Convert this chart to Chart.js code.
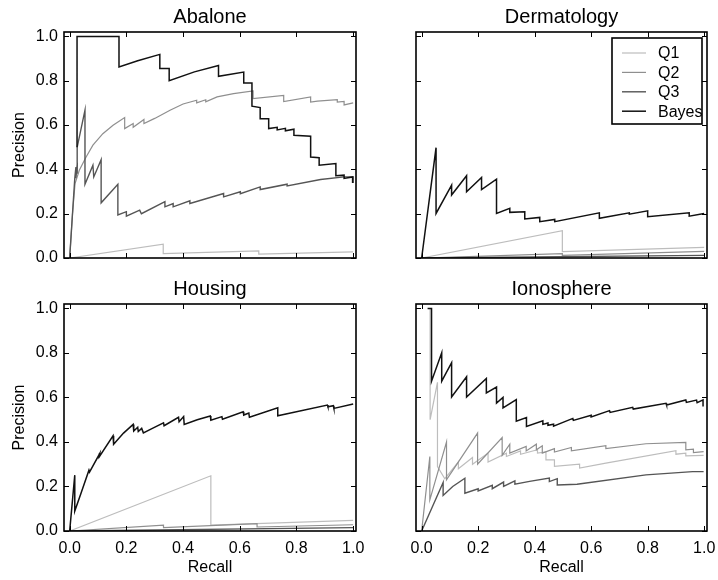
<!DOCTYPE html>
<html>
<head>
<meta charset="utf-8">
<script src="https://cdn.jsdelivr.net/npm/chart.js@4.4.0/dist/chart.umd.min.js"></script>
<style>
  body { margin: 0; background: #fff; }
  #wrap { position: relative; width: 718px; height: 580px; overflow: hidden; }
  canvas { position: absolute; }
</style>
</head>
<body>
<div id="wrap">
  <canvas id="abalone" width="372" height="290" style="left:0px;top:0px"></canvas>
  <canvas id="dermatology" width="359" height="290" style="left:359px;top:0px"></canvas>
  <canvas id="housing" width="372" height="318" style="left:0px;top:262px"></canvas>
  <canvas id="ionosphere" width="359" height="318" style="left:359px;top:262px"></canvas>
</div>
<script>
// series names and axis ticks
const seriesNames = ['Q1', 'Q2', 'Q3', 'Bayes'];
const tickValues = [0, 0.2, 0.4, 0.6, 0.8, 1.0];
const tickLabels = ['0.0', '0.2', '0.4', '0.6', '0.8', '1.0'];

// [recall, precision] pairs
const abaloneQ1 = [[0, 0], [0.330, 0.062], [0.330, 0.02], [0.667, 0.032], [0.667, 0.018], [1.0, 0.028]];
const abaloneQ2 = [[0, 0], [0.01, 0.2], [0.019, 0.336], [0.034, 0.396], [0.058, 0.456], [0.082, 0.509],
  [0.117, 0.561], [0.153, 0.599], [0.194, 0.634], [0.194, 0.584], [0.224, 0.607], [0.224, 0.59],
  [0.262, 0.625], [0.262, 0.607], [0.30, 0.63], [0.354, 0.667], [0.40, 0.695], [0.448, 0.712],
  [0.448, 0.70], [0.48, 0.714], [0.48, 0.705], [0.52, 0.727], [0.578, 0.742], [0.647, 0.754],
  [0.647, 0.719], [0.755, 0.734], [0.755, 0.706], [0.850, 0.727], [0.850, 0.704], [0.874, 0.708],
  [0.944, 0.715], [0.944, 0.704], [0.968, 0.707], [0.968, 0.691], [1.0, 0.70]];
const abaloneQ3 = [[0, 0], [0.018, 0.36], [0.022, 0.41], [0.022, 0.36], [0.027, 0.43], [0.027, 0.38],
  [0.026, 0.5], [0.054, 0.667], [0.054, 0.333], [0.082, 0.419], [0.085, 0.366], [0.111, 0.444],
  [0.111, 0.249], [0.170, 0.333], [0.170, 0.194], [0.200, 0.209], [0.200, 0.189], [0.247, 0.216],
  [0.253, 0.200], [0.336, 0.254], [0.336, 0.231], [0.365, 0.246], [0.365, 0.231], [0.424, 0.258],
  [0.424, 0.246], [0.543, 0.291], [0.543, 0.276], [0.602, 0.299], [0.602, 0.29], [0.672, 0.321],
  [0.672, 0.309], [0.767, 0.333], [0.767, 0.325], [0.885, 0.354], [0.968, 0.366], [1.0, 0.366], [1.0, 0.339]];
const abaloneBayes = [[0.026, 0.5], [0.026, 1.0], [0.174, 1.0], [0.174, 0.862], [0.24, 0.89], [0.318, 0.919],
  [0.318, 0.855], [0.351, 0.855], [0.351, 0.80], [0.44, 0.84], [0.525, 0.869], [0.525, 0.82],
  [0.614, 0.839], [0.614, 0.79], [0.643, 0.79], [0.643, 0.685], [0.672, 0.679], [0.672, 0.629],
  [0.702, 0.629], [0.702, 0.584], [0.732, 0.59], [0.732, 0.578], [0.761, 0.585], [0.761, 0.574],
  [0.791, 0.581], [0.791, 0.554], [0.850, 0.55], [0.850, 0.456], [0.880, 0.453], [0.880, 0.419],
  [0.939, 0.426], [0.939, 0.371], [0.968, 0.374], [0.968, 0.359], [0.998, 0.366], [0.998, 0.339]];

const dermatologyQ1 = [[0, 0], [0.498, 0.123], [0.498, 0.029], [1.0, 0.048]];
const dermatologyQ2 = [[0, 0], [0.498, 0.02], [0.498, 0.012], [1.0, 0.03]];
const dermatologyQ3 = [[0, 0], [1.0, 0.012]];
const dermatologyBayes = [[0, 0], [0.051, 0.498], [0.051, 0.201], [0.106, 0.329], [0.106, 0.284],
  [0.159, 0.371], [0.159, 0.299], [0.212, 0.363], [0.212, 0.309], [0.265, 0.356], [0.265, 0.201],
  [0.312, 0.224], [0.312, 0.206], [0.365, 0.209], [0.365, 0.176], [0.418, 0.183], [0.418, 0.164],
  [0.471, 0.174], [0.471, 0.164], [0.629, 0.204], [0.629, 0.179], [0.735, 0.204], [0.735, 0.198],
  [0.80, 0.213], [0.80, 0.186], [0.947, 0.204], [0.947, 0.189], [1.0, 0.201]];

const housingQ1 = [[0, 0], [0.498, 0.248], [0.498, 0.026], [1.0, 0.048]];
const housingQ2 = [[0, 0], [0.331, 0.026], [0.331, 0.015], [0.661, 0.033], [0.661, 0.018], [1.0, 0.028]];
const housingQ3 = [[0, 0], [1.0, 0.015]];
const housingBayes = [[0, 0], [0.018, 0.251], [0.018, 0.09], [0.04, 0.17], [0.068, 0.273], [0.07, 0.265],
  [0.106, 0.348], [0.104, 0.333], [0.153, 0.428], [0.155, 0.39], [0.19, 0.44], [0.224, 0.479],
  [0.226, 0.449], [0.24, 0.466], [0.242, 0.447], [0.254, 0.461], [0.26, 0.441], [0.29, 0.46],
  [0.331, 0.486], [0.333, 0.473], [0.384, 0.511], [0.386, 0.491], [0.402, 0.514], [0.404, 0.479],
  [0.45, 0.50], [0.496, 0.517], [0.498, 0.498], [0.537, 0.514], [0.539, 0.502], [0.612, 0.536],
  [0.614, 0.521], [0.632, 0.53], [0.634, 0.511], [0.734, 0.554], [0.734, 0.518], [0.909, 0.566],
  [0.911, 0.558], [0.930, 0.563], [0.932, 0.551], [1.0, 0.571]];

const ionosphereQ1 = [[0.03, 1.0], [0.03, 0.5], [0.056, 0.668], [0.056, 0.29], [0.082, 0.235], [0.13, 0.31],
  [0.13, 0.28], [0.18, 0.33], [0.18, 0.30], [0.235, 0.35], [0.235, 0.31], [0.30, 0.35], [0.30, 0.335],
  [0.35, 0.36], [0.35, 0.345], [0.38, 0.355], [0.41, 0.365], [0.41, 0.35], [0.44, 0.355], [0.44, 0.32],
  [0.47, 0.32], [0.47, 0.29], [0.559, 0.30], [0.559, 0.283], [0.652, 0.305], [0.90, 0.361],
  [0.90, 0.345], [0.935, 0.35], [0.935, 0.338], [0.998, 0.34]];
const ionosphereQ2 = [[0, 0], [0.029, 0.335], [0.029, 0.14], [0.088, 0.40], [0.088, 0.23], [0.198, 0.44],
  [0.198, 0.30], [0.285, 0.42], [0.285, 0.34], [0.312, 0.39], [0.312, 0.35], [0.37, 0.38], [0.37, 0.36],
  [0.406, 0.39], [0.406, 0.365], [0.427, 0.383], [0.427, 0.35], [0.47, 0.37], [0.47, 0.355],
  [0.53, 0.375], [0.53, 0.36], [0.652, 0.383], [0.652, 0.37], [0.794, 0.392], [0.935, 0.398],
  [0.935, 0.365], [0.962, 0.368], [0.962, 0.352], [0.998, 0.357]];
const ionosphereQ3 = [[0, 0], [0.076, 0.218], [0.076, 0.16], [0.11, 0.2], [0.153, 0.237], [0.153, 0.17],
  [0.2, 0.19], [0.2, 0.18], [0.25, 0.205], [0.25, 0.19], [0.29, 0.22], [0.29, 0.2], [0.33, 0.225],
  [0.33, 0.21], [0.382, 0.223], [0.452, 0.238], [0.452, 0.222], [0.48, 0.235], [0.48, 0.207],
  [0.55, 0.21], [0.794, 0.252], [0.959, 0.267], [0.998, 0.267]];
const ionosphereBayes = [[0.021, 1.0], [0.035, 1.0], [0.035, 0.673], [0.071, 0.801], [0.071, 0.673],
  [0.106, 0.756], [0.106, 0.602], [0.159, 0.693], [0.159, 0.602], [0.229, 0.685], [0.229, 0.62],
  [0.265, 0.647], [0.265, 0.575], [0.288, 0.60], [0.288, 0.553], [0.335, 0.59], [0.335, 0.493],
  [0.371, 0.51], [0.371, 0.47], [0.429, 0.495], [0.429, 0.479], [0.447, 0.485], [0.447, 0.475],
  [0.467, 0.48], [0.467, 0.471], [0.535, 0.506], [0.537, 0.497], [0.60, 0.52], [0.60, 0.512],
  [0.665, 0.541], [0.667, 0.533], [0.747, 0.556], [0.749, 0.548], [0.865, 0.574], [0.867, 0.566],
  [0.935, 0.589], [0.937, 0.578], [0.973, 0.588], [0.975, 0.577], [0.996, 0.589], [0.996, 0.559]];

const lineColors = ['#bdbdbd', '#8f8f8f', '#555555', '#111111'];
const lineWidths = [1.2, 1.2, 1.4, 1.5];

Chart.defaults.font.family = '"Liberation Sans", Arial, sans-serif';
Chart.defaults.color = '#000';
Chart.defaults.animation = false;

// box around the plot plus inward ticks on all four sides
const frameTicks = {
    id: 'frameTicks',
    afterDatasetsDraw(chart) {
        const ctx = chart.ctx;
        const a = chart.chartArea;
        const xs = chart.scales.x;
        const ys = chart.scales.y;
        ctx.save();
        ctx.strokeStyle = '#000';
        ctx.lineWidth = 1;
        ctx.beginPath();
        xs.ticks.forEach(t => {
            const px = Math.round(xs.getPixelForValue(t.value)) + 0.5;
            ctx.moveTo(px, a.bottom); ctx.lineTo(px, a.bottom - 5);
            ctx.moveTo(px, a.top); ctx.lineTo(px, a.top + 5);
        });
        ys.ticks.forEach(t => {
            const py = Math.round(ys.getPixelForValue(t.value)) + 0.5;
            ctx.moveTo(a.left, py); ctx.lineTo(a.left + 5, py);
            ctx.moveTo(a.right, py); ctx.lineTo(a.right - 5, py);
        });
        ctx.stroke();
        ctx.lineWidth = 1.6;
        ctx.strokeRect(a.left, a.top, a.right - a.left, a.bottom - a.top);
        ctx.restore();
    }
};

// matplotlib style legend box in the upper right corner
const boxLegend = {
    id: 'boxLegend',
    afterDraw(chart) {
        const ctx = chart.ctx;
        const a = chart.chartArea;
        const w = 90, h = 86;
        const left = a.right - 5 - w;
        const top = a.top + 6;
        ctx.save();
        ctx.fillStyle = '#fff';
        ctx.fillRect(left, top, w, h);
        ctx.strokeStyle = '#000';
        ctx.lineWidth = 1.6;
        ctx.strokeRect(left, top, w, h);
        ctx.font = '16px "Liberation Sans", Arial, sans-serif';
        ctx.textBaseline = 'middle';
        ctx.fillStyle = '#000';
        chart.data.datasets.forEach((ds, i) => {
            const y = top + 15 + i * 19.4;
            ctx.strokeStyle = ds.borderColor;
            ctx.lineWidth = ds.borderWidth;
            ctx.beginPath();
            ctx.moveTo(left + 10, y);
            ctx.lineTo(left + 34, y);
            ctx.stroke();
            ctx.fillText(ds.label, left + 46, y + 1);
        });
        ctx.restore();
    }
};

function criarPainel(id, titulo, series, opcoes) {
    const datasets = series.map((pts, i) => ({
        label: seriesNames[i],
        data: pts.map(p => ({ x: p[0], y: p[1] })),
        showLine: true,
        borderColor: lineColors[i],
        borderWidth: lineWidths[i],
        pointRadius: 0,
        tension: 0,
        order: series.length - i
    }));
    const plugins = [frameTicks];
    if (opcoes.legend) plugins.push(boxLegend);

    return new Chart(document.getElementById(id).getContext('2d'), {
        type: 'scatter',
        data: { datasets: datasets },
        plugins: plugins,
        options: {
            responsive: false,
            events: [],
            layout: { padding: { left: 0, right: opcoes.padRight, top: 0, bottom: 0 } },
            plugins: {
                legend: { display: false },
                tooltip: { enabled: false },
                title: {
                    display: true,
                    text: titulo,
                    fullSize: false,
                    font: { size: 20, weight: 'normal' },
                    padding: { top: opcoes.titleTop, bottom: 3 }
                }
            },
            scales: {
                x: {
                    type: 'linear',
                    min: -0.02,
                    max: 1.01,
                    grid: { display: false, drawTicks: false },
                    border: { display: false },
                    afterBuildTicks: s => { s.ticks = tickValues.map(v => ({ value: v })); },
                    afterFit: s => { s.height = opcoes.xHeight; s.paddingLeft = 0; s.paddingRight = 0; },
                    ticks: {
                        display: opcoes.xLabels,
                        autoSkip: false,
                        maxRotation: 0,
                        padding: 8,
                        font: { size: 16 },
                        callback: (v, i) => tickLabels[i]
                    },
                    title: {
                        display: opcoes.xLabels,
                        text: 'Recall',
                        font: { size: 16 },
                        padding: { top: 0, bottom: 3 }
                    }
                },
                y: {
                    type: 'linear',
                    min: 0,
                    max: 1.02,
                    grid: { display: false, drawTicks: false },
                    border: { display: false },
                    afterBuildTicks: s => { s.ticks = tickValues.map(v => ({ value: v })); },
                    afterFit: s => { s.width = opcoes.yWidth; s.paddingTop = 0; s.paddingBottom = 0; },
                    ticks: {
                        display: opcoes.yLabels,
                        autoSkip: false,
                        padding: 6,
                        font: { size: 16 },
                        callback: (v, i) => tickLabels[i]
                    },
                    title: {
                        display: opcoes.yLabels,
                        text: 'Precision',
                        font: { size: 16 },
                        padding: { top: 10, bottom: 0 }
                    }
                }
            }
        }
    });
}

criarPainel('abalone', 'Abalone', [abaloneQ1, abaloneQ2, abaloneQ3, abaloneBayes],
    { padRight: 16, yWidth: 64, xHeight: 32, titleTop: 5, xLabels: false, yLabels: true });
criarPainel('dermatology', 'Dermatology', [dermatologyQ1, dermatologyQ2, dermatologyQ3, dermatologyBayes],
    { padRight: 11, yWidth: 57, xHeight: 32, titleTop: 5, xLabels: false, yLabels: false, legend: true });
criarPainel('housing', 'Housing', [housingQ1, housingQ2, housingQ3, housingBayes],
    { padRight: 16, yWidth: 64, xHeight: 49, titleTop: 15, xLabels: true, yLabels: true });
criarPainel('ionosphere', 'Ionosphere', [ionosphereQ1, ionosphereQ2, ionosphereQ3, ionosphereBayes],
    { padRight: 11, yWidth: 57, xHeight: 49, titleTop: 15, xLabels: true, yLabels: false });
</script>
</body>
</html>
